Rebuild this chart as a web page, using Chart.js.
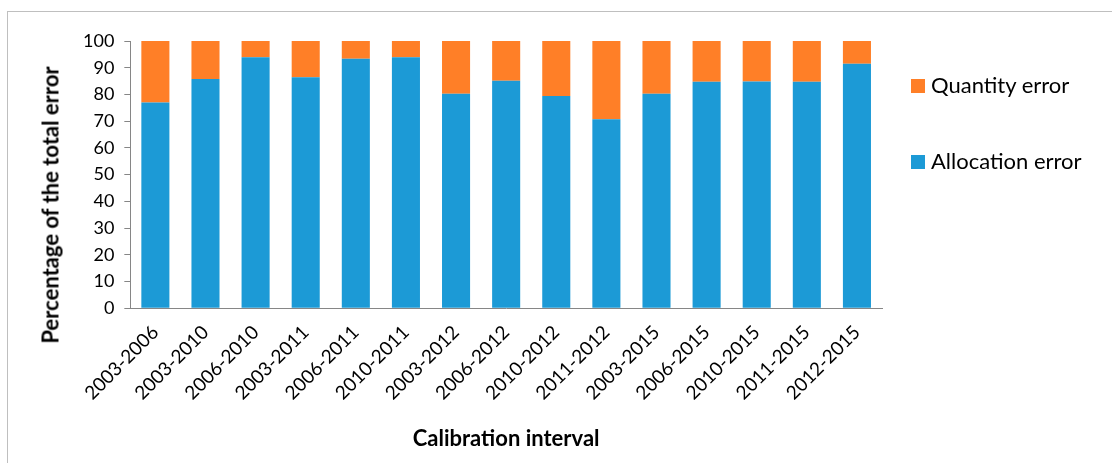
<!DOCTYPE html>
<html><head><meta charset="utf-8">
<script src="https://cdn.jsdelivr.net/npm/chart.js@4/dist/chart.umd.min.js"></script>
<style>
html,body{margin:0;padding:0;background:#fff;}
#wrap{position:relative;width:1112px;height:463px;overflow:hidden;}
#frame{position:absolute;left:7px;top:11px;width:1200px;height:500px;border:1px solid #bfbfbf;box-sizing:border-box;}
#c{position:absolute;left:0;top:0;}
.leg{position:absolute;font-family:Lato,"Open Sans",sans-serif;font-size:22px;color:#000;white-space:nowrap;line-height:24px;}
.leg span{display:inline-block;width:14px;height:14px;margin-right:6px;vertical-align:0px;}
#ytitle{position:absolute;left:50px;top:205px;transform:translate(-50%,-50%) rotate(-90deg);font-family:Lato,"Open Sans",sans-serif;font-size:22px;font-weight:bold;color:#000;white-space:nowrap;}
</style></head>
<body>
<div id="wrap">
<div id="frame"></div>
<canvas id="c" width="1112" height="463"></canvas>
<div id="ytitle">Percentage of the total error</div>
<div class="leg" style="left:911px;top:73px;"><span style="background:#FF7F27"></span>Quantity error</div>
<div class="leg" style="left:911px;top:149px;"><span style="background:#1C9AD6"></span>Allocation error</div>
</div>
<script>
const categories = ["2003-2006","2003-2010","2006-2010","2003-2011","2006-2011","2010-2011","2003-2012","2006-2012","2010-2012","2011-2012","2003-2015","2006-2015","2010-2015","2011-2015","2012-2015"];
const allocationError = [77.0, 85.8, 93.9, 86.4, 93.4, 93.9, 80.3, 85.1, 79.4, 70.7, 80.3, 84.7, 84.8, 84.7, 91.5];
const quantityError = [23.0, 14.2, 6.1, 13.6, 6.6, 6.1, 19.7, 14.9, 20.6, 29.3, 19.7, 15.3, 15.2, 15.3, 8.5];
const yTicks = [0,10,20,30,40,50,60,70,80,90,100];

const font = "Lato, 'Open Sans', sans-serif";
new Chart(document.getElementById('c'), {
  type: 'bar',
  data: {
    labels: categories,
    datasets: [
      {label: 'Allocation error', data: allocationError, backgroundColor: '#1C9AD6', barPercentage: 0.56, categoryPercentage: 1},
      {label: 'Quantity error', data: quantityError, backgroundColor: '#FF7F27', barPercentage: 0.56, categoryPercentage: 1}
    ]
  },
  options: {
    responsive: false,
    animation: false,
    devicePixelRatio: 1,
    layout: {padding: {left: 73, top: 41, right: 230, bottom: 11}},
    plugins: {legend: {display: false}, tooltip: {enabled: false}},
    scales: {
      x: {
        stacked: true,
        grid: {display: false},
        border: {display: true, color: '#868686', width: 1},
        ticks: {color: '#000', font: {family: font, size: 19}, minRotation: 45, maxRotation: 45, padding: 5},
        title: {display: true, text: 'Calibration interval', color: '#000', font: {family: font, size: 22, weight: 'bold'}, padding: {top: 16, bottom: 0}}
      },
      y: {
        stacked: true,
        min: 0, max: 100,
        afterBuildTicks: (ax) => { ax.ticks = yTicks.map(v => ({value: v})); },
        grid: {display: true, drawOnChartArea: false, drawTicks: true, tickLength: 6, color: '#868686'},
        border: {display: true, color: '#868686', width: 1},
        ticks: {color: '#000', font: {family: font, size: 18}, padding: 10},
        title: {display: false}
      }
    }
  }
});
</script>
</body></html>
